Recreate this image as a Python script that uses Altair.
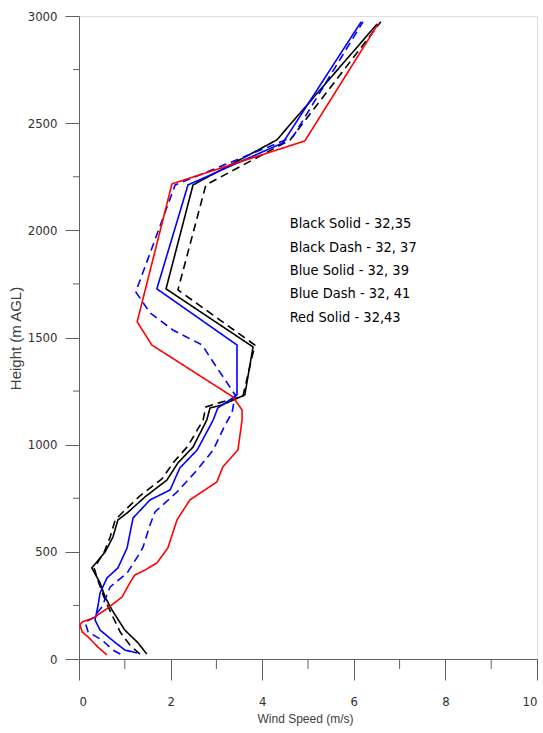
import altair as alt
import pandas as pd

# ---- data ----
bs_h = [23, 75, 135, 229, 289, 355, 425, 499, 569, 649, 681, 756, 835, 915, 989, 1115, 1171, 1185, 1232, 1456, 1727, 2212, 2422, 2963]
bs_v = [1.48, 1.29, 1.00, 0.72, 0.57, 0.46, 0.28, 0.57, 0.74, 0.85, 1.05, 1.44, 1.92, 2.16, 2.49, 2.79, 2.86, 3.12, 3.62, 3.80, 1.90, 2.49, 4.32, 6.51]

bd_h = [23, 65, 126, 205, 275, 369, 425, 499, 569, 649, 686, 761, 840, 919, 994, 1115, 1176, 1195, 1227, 1465, 1722, 2212, 2422, 2973]
bd_v = [1.33, 1.11, 0.90, 0.72, 0.57, 0.41, 0.33, 0.55, 0.68, 0.79, 0.96, 1.33, 1.81, 2.07, 2.38, 2.71, 2.77, 3.06, 3.58, 3.84, 2.16, 2.77, 4.61, 6.59]

us_h = [28, 42, 89, 135, 182, 243, 308, 378, 425, 518, 658, 742, 789, 891, 975, 1115, 1171, 1232, 1465, 1727, 2212, 2408, 2973]
us_v = [1.27, 1.00, 0.72, 0.46, 0.35, 0.41, 0.46, 0.61, 0.85, 1.05, 1.18, 1.55, 1.99, 2.20, 2.58, 2.93, 3.03, 3.45, 3.45, 1.70, 2.38, 4.45, 6.16]

ud_h = [23, 42, 89, 126, 173, 191, 243, 336, 401, 495, 523, 625, 686, 779, 882, 975, 1092, 1148, 1232, 1395, 1465, 1535, 1615, 1713, 2212, 2436, 2973]
ud_v = [0.90, 0.74, 0.50, 0.20, 0.13, 0.31, 0.50, 0.68, 1.05, 1.33, 1.40, 1.55, 1.66, 2.14, 2.58, 2.93, 3.19, 3.34, 3.41, 2.90, 2.69, 2.05, 1.55, 1.24, 2.10, 4.67, 6.20]

rs_h = [19, 56, 103, 126, 159, 173, 191, 238, 289, 355, 392, 415, 448, 518, 649, 742, 826, 896, 975, 1115, 1162, 1223, 1465, 1573, 2217, 2417, 2963]
rs_v = [0.61, 0.41, 0.20, 0.07, 0.02, 0.07, 0.31, 0.63, 0.94, 1.11, 1.22, 1.44, 1.70, 1.94, 2.14, 2.42, 3.01, 3.14, 3.47, 3.56, 3.56, 3.36, 1.59, 1.27, 2.03, 4.93, 6.53]

series_names = ["Black Solid", "Black Dash", "Blue Solid", "Blue Dash", "Red Solid"]
series_colors = ["#000000", "#000000", "#0000ff", "#0000ff", "#ff0000"]
series_dash = [[1, 0], [8, 5], [1, 0], [8, 5], [1, 0]]

legend_lines = ["Black Solid - 32,35", "Black Dash - 32, 37", "Blue Solid - 32, 39",
                "Blue Dash - 32, 41", "Red Solid -  32,43"]
legend_x = [4.6, 4.6, 4.6, 4.6, 4.6]
legend_y = [2028, 1918, 1811, 1704, 1591]

x_major = [0, 2, 4, 6, 8, 10]
x_minor = [1, 3, 5, 7, 9]
y_major = [0, 500, 1000, 1500, 2000, 2500, 3000]
y_minor = [250, 750, 1250, 1750, 2250, 2750]

# ---- build tables ----
rows = []
for name, hs, vs in zip(series_names,
                        [bs_h, bd_h, us_h, ud_h, rs_h],
                        [bs_v, bd_v, us_v, ud_v, rs_v]):
    for i, (h, v) in enumerate(zip(hs, vs)):
        rows.append({"series": name, "order": i, "height": h, "speed": v})
df = pd.DataFrame(rows)

leg_df = pd.DataFrame({"label": legend_lines, "x": legend_x, "y": legend_y})
xm_df = pd.DataFrame({"x": x_minor})
ym_df = pd.DataFrame({"y": y_minor})

AX = "#606060"
LBL = "#303030"
NARROW = "DejaVu Sans Condensed, Liberation Sans Narrow, Liberation Sans, sans-serif"

xscale = alt.Scale(domain=[0, 10], nice=False)
yscale = alt.Scale(domain=[0, 3000], nice=False)

lines = alt.Chart(df).mark_line(strokeWidth=1.6, clip=False).encode(
    x=alt.X("speed:Q", scale=xscale,
            axis=alt.Axis(values=x_major, format="d", tickSize=21, grid=False, domainColor=AX,
                          tickColor=AX, labelColor=LBL, labelFont=NARROW, labelFontSize=13,
                          labelPadding=15, title="Wind Speed (m/s)", titleFont="Liberation Sans",
                          titleFontSize=12, titleFontWeight="normal", titleColor="#404040",
                          titleX=226, titleY=59, titleBaseline="middle")),
    y=alt.Y("height:Q", scale=yscale,
            axis=alt.Axis(values=y_major, format="d", tickSize=14, grid=False, domainColor=AX,
                          tickColor=AX, labelColor=LBL, labelFont=NARROW, labelFontSize=13,
                          labelPadding=8, title="Height (m AGL)", titleFont="Liberation Sans",
                          titleFontSize=15, titleFontWeight="normal", titleColor="#404040",
                          titleX=-64, titleY=322, titleAngle=-90, titleBaseline="middle")),
    color=alt.Color("series:N", scale=alt.Scale(domain=series_names, range=series_colors), legend=None),
    strokeDash=alt.StrokeDash("series:N", scale=alt.Scale(domain=series_names, range=series_dash), legend=None),
    detail="series:N",
    order="order:Q",
)

xminor = alt.Chart(xm_df).mark_rule(color=AX, strokeWidth=1).encode(
    x=alt.X("x:Q", scale=xscale), y=alt.value(643), y2=alt.value(653))
yminor = alt.Chart(ym_df).mark_rule(color=AX, strokeWidth=1).encode(
    y=alt.Y("y:Q", scale=yscale), x=alt.value(-6), x2=alt.value(0))

legend_text = alt.Chart(leg_df).mark_text(align="left", baseline="middle", font=NARROW,
                                          fontSize=14.5, color="#000000").encode(
    x=alt.X("x:Q", scale=xscale), y=alt.Y("y:Q", scale=yscale), text="label:N")

chart = alt.layer(lines, xminor, yminor, legend_text).properties(
    width=458, height=643,
    autosize=alt.AutoSizeParams(type="none"),
    padding={"left": 79, "top": 16, "right": 6, "bottom": 74},
).configure_view(stroke=None).configure(background="white")

chart.save("out.html", embed_options={"renderer": "svg", "actions": False})
